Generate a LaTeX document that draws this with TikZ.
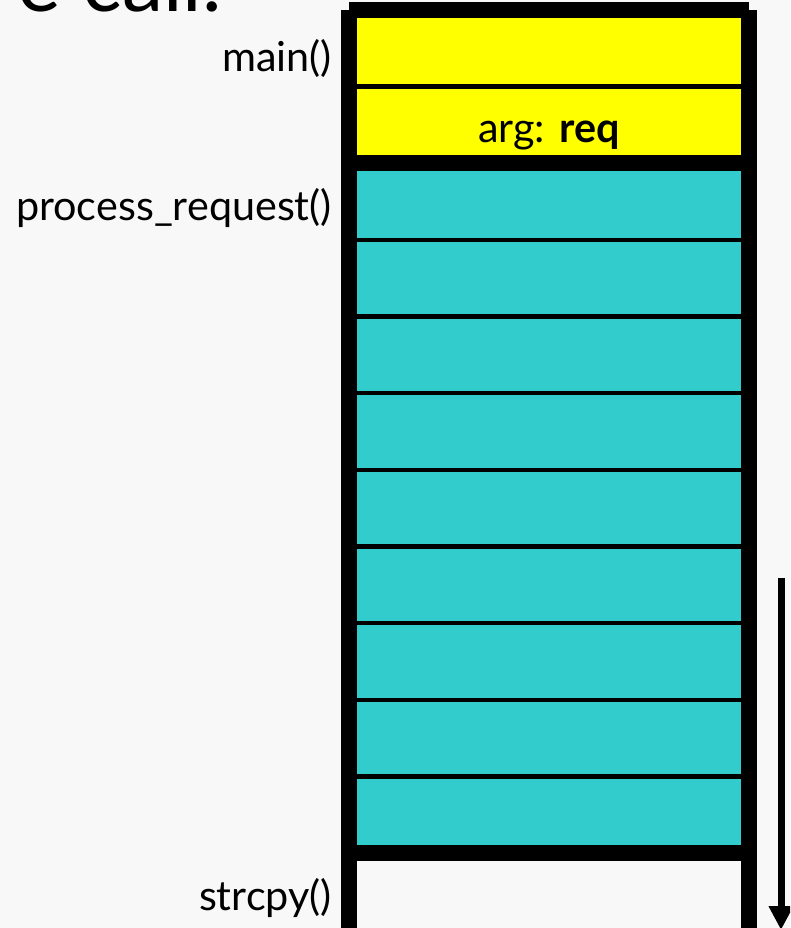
\documentclass[tikz,border=0pt]{standalone}
\usepackage{fontspec}
\setmainfont{Lato}
\usetikzlibrary{arrows.meta}
\definecolor{slidegray}{RGB}{248,248,248}
\definecolor{framecyan}{RGB}{51,204,204}
\definecolor{frameyellow}{RGB}{255,255,0}

\begin{document}
\begin{tikzpicture}[x=0.75pt,y=0.75pt,yscale=-1,xscale=1]
        \clip (0,0) rectangle (790,928);
        \fill[slidegray] (0,0) rectangle (790,928);

        % Text Node (title, runs off the top)
        \draw (222,12) node [anchor=base east][inner sep=0pt] (title) {\fontsize{62}{62}\selectfont e call.};

        %Shape: Stack walls
        \fill[black] (341,10) rectangle (757,940);
        \fill[black] (349,2) rectangle (749,10);
        %Shape: Rectangle (main frame)
        \fill[frameyellow] (357,18) rectangle (741,84);
        \fill[frameyellow] (357,89) rectangle (741,155);
        %Shape: Rectangle (process_request frame)
        \fill[framecyan] (357,171) rectangle (741,238);
        \foreach \k in {0,...,6}
            \fill[framecyan] (357,{242+76.67*\k}) rectangle (741,{314.3+76.67*\k});
        \fill[framecyan] (357,779) rectangle (741,845);
        %Shape: Rectangle (strcpy frame)
        \fill[slidegray] (357,861) rectangle (741,940);

        %Straight Lines (growth arrow)
        \coordinate (growtop) at (781,578);
        \coordinate (growend) at (781,930);
        \draw [line width=5.25pt,-{Triangle[width=17.5pt,length=18pt]}] (growtop) -- (growend);

        % Text Node
        \draw (332,71) node [anchor=base east][inner sep=0pt] (main) {\fontsize{31}{31}\selectfont main()};
        % Text Node
        \draw (332,220) node [anchor=base east][inner sep=0pt] (proc) {\fontsize{31}{31}\selectfont process\_request()};
        % Text Node
        \draw (332,910) node [anchor=base east][inner sep=0pt] (strcpy) {\fontsize{31}{31}\selectfont strcpy()};
        % Text Node
        \draw (549,142) node [anchor=base][inner sep=0pt] (arg) {\fontsize{31}{31}\selectfont arg: \textbf{req}};
\end{tikzpicture}
\end{document}
